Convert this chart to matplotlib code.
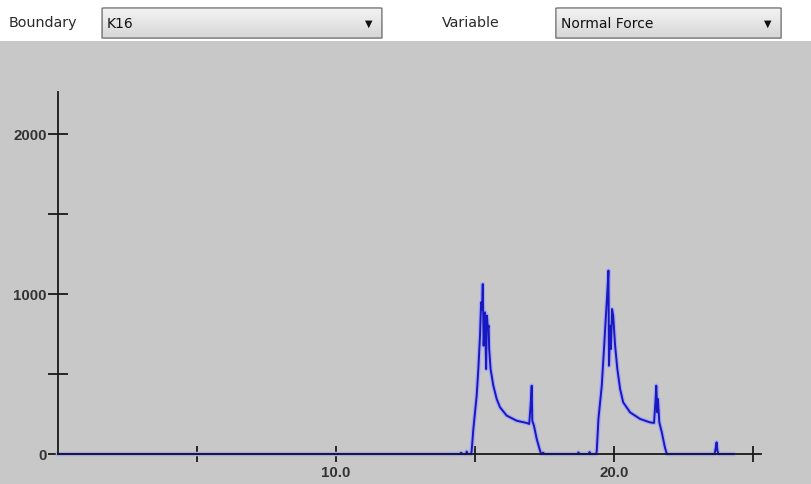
import matplotlib
matplotlib.use("Agg")
import numpy as np
import matplotlib.pyplot as plt
from matplotlib.patches import Rectangle, FancyBboxPatch

# Contact normal force history for boundary K16
time = [0.0, 14.45, 14.50, 14.55, 14.68, 14.70, 14.74, 14.86, 14.88, 14.94,
        15.06, 15.12, 15.18, 15.22, 15.25, 15.28, 15.31, 15.36, 15.40, 15.43,
        15.46, 15.49, 15.51, 15.56, 15.66, 15.78, 15.90, 16.14, 16.50, 16.86,
        16.95, 17.00, 17.04, 17.06, 17.12, 17.22, 17.34, 17.38, 17.45, 17.50,
        18.70, 18.72, 18.75, 19.10, 19.12, 19.15, 19.36, 19.38, 19.44, 19.56,
        19.64, 19.71, 19.76, 19.80, 19.82, 19.86, 19.89, 19.93, 19.97, 20.04,
        20.12, 20.22, 20.33, 20.58, 20.94, 21.29, 21.44, 21.49, 21.52, 21.56,
        21.58, 21.63, 21.72, 21.83, 21.90, 23.62, 23.66, 23.69, 23.72, 23.76,
        24.28]
force = [0, 0, 8, 0, 0, 15, 0, 0, 20, 155,
         364, 531, 740, 948, 900, 1062, 677, 885, 531, 865,
         780, 802, 656, 531, 427, 344, 292, 240, 208, 194,
         188, 302, 427, 208, 177, 94, 20, 0, 8, 0,
         0, 10, 0, 0, 12, 0, 0, 20, 219, 427,
         656, 865, 1010, 1146, 552, 802, 656, 906, 865, 677,
         531, 406, 323, 260, 219, 198, 194, 323, 427, 260,
         344, 198, 135, 42, 0, 0, 40, 73, 20, 0,
         0]

x_ticks = [5, 10, 15, 20, 25]
x_tick_labels = ["", "10.0", "", "20.0", ""]
y_ticks = [0, 500, 1000, 1500, 2000]
y_tick_labels = ["0", "", "1000", "", "2000"]

boundary_name = "K16"
variable_name = "Normal Force"

W, H = 811, 485
fig = plt.figure(figsize=(W / 100, H / 100), dpi=100)
fig.patch.set_facecolor("white")

# grey plotting panel below the selector bar
fig.patches.append(Rectangle((0, 0), 1, (H - 42) / H, transform=fig.transFigure,
                             facecolor="#c8c8c8", edgecolor="none", zorder=-5))

# selector bar
label_font = dict(family="DejaVu Sans", size=10.3, color="#2a2a2a", va="center")
fig.text(9 / W, 1 - 23 / H, "Boundary", ha="left", **label_font)
fig.text(442 / W, 1 - 23 / H, "Variable", ha="left", **label_font)


def combo(x0, x1, text):
    y0, y1 = 8, 40
    cax = fig.add_axes([x0 / W, 1 - y1 / H, (x1 - x0) / W, (y1 - y0) / H])
    cax.set_axis_off()
    grad = np.linspace(0, 1, 64)[:, None]
    cax.imshow(grad, cmap=matplotlib.colors.LinearSegmentedColormap.from_list(
        "g", ["#f4f4f4", "#d6d6d6"]), aspect="auto", extent=(0, 1, 0, 1),
        origin="upper")
    cax.set_xlim(0, 1)
    cax.set_ylim(0, 1)
    box = FancyBboxPatch((0.004, 0.03), 0.992, 0.94,
                         boxstyle="round,pad=0,rounding_size=0.012",
                         transform=cax.transAxes, facecolor="none",
                         edgecolor="#7a7a7a", linewidth=1.0)
    cax.add_patch(box)
    cax.text(6 / (x1 - x0), 0.5, text, ha="left", va="center",
             family="DejaVu Sans", size=10.0, color="#111111")
    cax.text(1 - 14 / (x1 - x0), 0.5, "\u25BC", ha="center", va="center",
             family="DejaVu Sans", size=7, color="#111111")


combo(101, 383, boundary_name)
combo(555, 782, variable_name)

# chart axes: origin at (58, 455) px, 27.8 px per second, 0.16 px per unit force
x_left, x_right = 58, 761
y_bottom, y_top = 455, 93
xmax = (x_right - x_left) / 27.8
ymax = (y_bottom - y_top) / 0.16
ax = fig.add_axes([x_left / W, 1 - y_bottom / H, (x_right - x_left) / W,
                   (y_bottom - y_top) / H])
ax.patch.set_alpha(0)
ax.set_xlim(0, xmax)
ax.set_ylim(0, ymax)
for s in ("top", "right"):
    ax.spines[s].set_visible(False)
for s in ("left", "bottom"):
    ax.spines[s].set_color("#1a1a1a")
    ax.spines[s].set_linewidth(1.3)
    ax.spines[s].set_zorder(5)

ax.set_xticks(x_ticks)
ax.set_xticklabels(x_tick_labels)
ax.set_yticks(y_ticks)
ax.set_yticklabels(y_tick_labels)
ax.tick_params(axis="x", direction="inout", length=11.5, width=1.3,
               color="#1a1a1a", pad=2.5)
ax.tick_params(axis="y", direction="inout", length=15, width=1.3,
               color="#1a1a1a", pad=0.5)
for lab in ax.get_xticklabels() + ax.get_yticklabels():
    lab.set_family("Liberation Sans")
    lab.set_fontweight("bold")
    lab.set_fontsize(10.8)
    lab.set_color("#333333")

# soft halo under the trace, then the trace itself
ax.plot(time, force, color="#a8a8ec", linewidth=3.2, clip_on=False, zorder=3)
ax.plot(time, force, color="#1818c0", linewidth=1.4, clip_on=False, zorder=4)

fig.savefig("out.png", dpi=100, facecolor=fig.get_facecolor())
